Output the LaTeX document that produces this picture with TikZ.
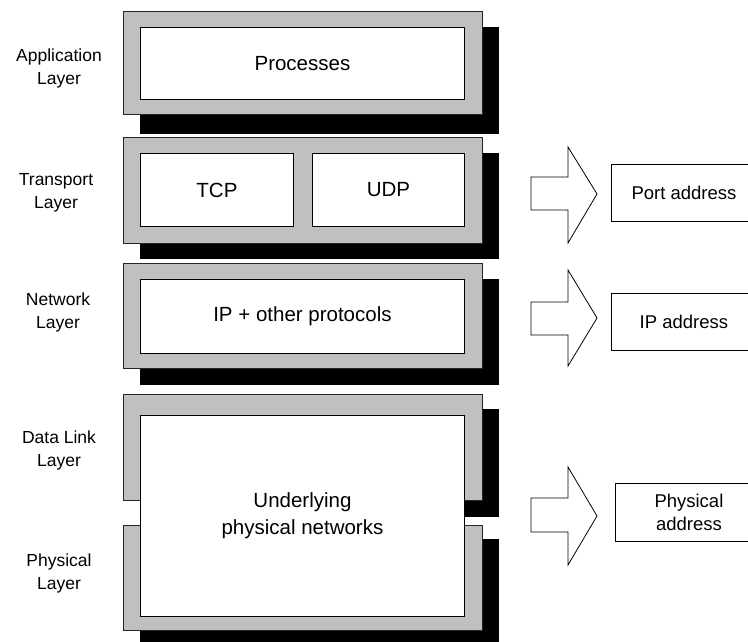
\documentclass[tikz,border=0pt]{standalone}
\usepackage{fontspec}
\setmainfont{Liberation Sans}
\definecolor{framegray}{HTML}{C0C0C0}
\newcommand\bigtxt{\fontsize{20.5}{27}\selectfont}
\newcommand\labtxt{\fontsize{17.5}{23}\selectfont}
\newcommand\addrtxt{\fontsize{18.5}{23}\selectfont}
\begin{document}
\begin{tikzpicture}[x=1pt,y=-1pt,
  framebox/.style={draw=black!85, fill=framegray, line width=0.8pt, inner sep=0pt, anchor=north west},
  shadebox/.style={fill=black, inner sep=0pt, anchor=north west},
  inbox/.style={draw=black, fill=white, line width=0.9pt, inner sep=0pt, anchor=north west, font=\bigtxt, align=center},
  addrbox/.style={draw=black, fill=white, line width=0.9pt, inner sep=0pt, anchor=north west, font=\addrtxt, align=center},
  laylabel/.style={font=\labtxt, align=center, inner sep=0pt},
  blockarrow/.style={draw=black, fill=white, line width=0.8pt, line join=miter}]
\clip (0,0) rectangle (748,642);
\fill[white] (0,0) rectangle (748,642);

% Application layer
\node[shadebox, minimum width=359pt, minimum height=107pt] (appS) at (140,27) {};
\node[framebox, minimum width=359pt, minimum height=103pt] (appF) at (123,11) {};
\node[inbox, minimum width=324pt, minimum height=72pt] (proc) at (140,27) {Processes};

% Transport layer
\node[shadebox, minimum width=359pt, minimum height=106pt] (trS) at (140,153) {};
\node[framebox, minimum width=359pt, minimum height=106pt] (trF) at (123,137) {};
\node[inbox, minimum width=153pt, minimum height=73pt] (tcp) at (140,153) {TCP};
\node[inbox, minimum width=152pt, minimum height=73pt] (udp) at (312,153) {UDP};

% Network layer
\node[shadebox, minimum width=359pt, minimum height=106pt] (nwS) at (140,279) {};
\node[framebox, minimum width=359pt, minimum height=105pt] (nwF) at (123,263) {};
\node[inbox, minimum width=324pt, minimum height=74pt] (ip) at (140,279) {IP + other protocols};

% Data link and physical layers
\node[shadebox, minimum width=359pt, minimum height=108pt] (dlS) at (140,409) {};
\node[framebox, minimum width=359pt, minimum height=106pt] (dlF) at (123,394) {};
\node[shadebox, minimum width=359pt, minimum height=110pt] (phS) at (140,539) {};
\node[framebox, minimum width=359pt, minimum height=105pt] (phF) at (123,525) {};
\node[inbox, minimum width=324pt, minimum height=201pt] (under) at (140,415) {Underlying\\physical networks};

% Layer labels
\node[laylabel] (lapp) at (59,68) {Application\\Layer};
\node[laylabel] (ltr) at (56,193) {Transport\\Layer};
\node[laylabel] (lnw) at (58,312) {Network\\Layer};
\node[laylabel] (ldl) at (59,450) {Data Link\\Layer};
\node[laylabel] (lph) at (59,573) {Physical\\Layer};

% Block arrows
\draw[blockarrow] (531,177) -- (568,177) -- (568,147) -- (597,194) -- (568,243) -- (568,210) -- (531,210) -- cycle;
\draw[blockarrow] (531,302) -- (568,302) -- (568,270) -- (597,318) -- (568,366) -- (568,335) -- (531,335) -- cycle;
\draw[blockarrow] (531,498) -- (568,498) -- (568,467) -- (597,516) -- (568,565) -- (568,532) -- (531,532) -- cycle;

% Address boxes
\node[addrbox, minimum width=145pt, minimum height=57pt] (port) at (611,164) {Port address};
\node[addrbox, minimum width=145pt, minimum height=57pt] (ipa) at (611,293) {IP address};
\node[addrbox, minimum width=147pt, minimum height=58pt] (phya) at (615,483) {Physical\\address};
\end{tikzpicture}
\end{document}
